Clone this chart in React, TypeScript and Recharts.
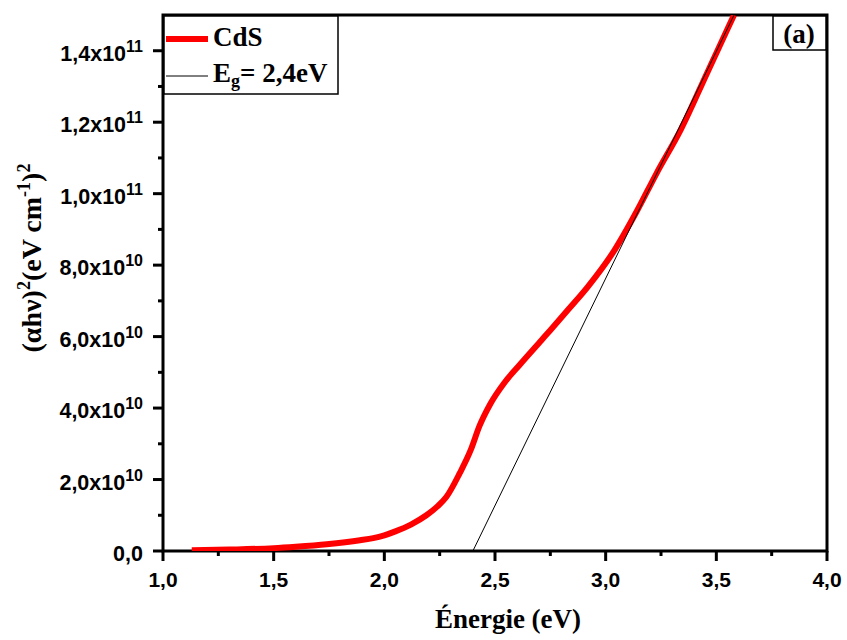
import React from 'react';
import { LineChart, Line, XAxis, YAxis, ReferenceArea } from 'recharts';

// photon energy (eV) and (alpha h nu)^2
const energy = [1.13, 1.3, 1.5, 1.6, 1.74, 1.89, 1.95, 2.0, 2.05, 2.12, 2.19, 2.24, 2.28, 2.34, 2.39, 2.43, 2.48, 2.54, 2.61, 2.71, 2.75, 2.83, 2.92, 3.04, 3.14, 3.23, 3.34, 3.46, 3.58];
const absorption = [0.02e10, 0.04e10, 0.08e10, 0.12e10, 0.19e10, 0.3e10, 0.36e10, 0.44e10, 0.55e10, 0.74e10, 1.0e10, 1.25e10, 1.51e10, 2.17e10, 2.82e10, 3.5e10, 4.13e10, 4.69e10, 5.2e10, 5.9e10, 6.18e10, 6.75e10, 7.4e10, 8.42e10, 9.5e10, 10.57e10, 11.8e10, 13.4e10, 15.0e10];

// Tauc fit line, Eg = 2,4 eV
const fitEnergy = [2.4, 3.58];
const fitValue = [0, 1.5e11];

const xTicks = [1, 1.25, 1.5, 1.75, 2, 2.25, 2.5, 2.75, 3, 3.25, 3.5, 3.75, 4];
const xLabels = ['1,0', '1,5', '2,0', '2,5', '3,0', '3,5', '4,0'];
const yTicks = [0, 1e10, 2e10, 3e10, 4e10, 5e10, 6e10, 7e10, 8e10, 9e10, 10e10, 11e10, 12e10, 13e10, 14e10];
const yLabelMain = ['0,0', '2,0x10', '4,0x10', '6,0x10', '8,0x10', '1,0x10', '1,2x10', '1,4x10'];
const yLabelExp = ['', '10', '10', '10', '10', '11', '11', '11'];

const curveData = energy.map((e, i) => ({ x: e, y: absorption[i] }));
const fitData = fitEnergy.map((e, i) => ({ x: e, y: fitValue[i] }));

const sans = '"Liberation Sans", Arial, sans-serif';
const serif = '"Liberation Serif", "Times New Roman", serif';

const XTick = (props: any) => {
  const { x, y, payload } = props;
  const v = payload.value;
  const major = Math.abs(v * 2 - Math.round(v * 2)) < 1e-6;
  const idx = Math.round((v - 1) * 2);
  return (
    <g>
      <line x1={x} y1={y} x2={x} y2={y + (major ? 10 : 5)} stroke="#000" strokeWidth={3} />
      {major && (
        <text x={x} y={y + 36} textAnchor="middle" fontFamily={sans} fontWeight="bold" fontSize={21} fill="#000">
          {xLabels[idx]}
        </text>
      )}
    </g>
  );
};

const YTick = (props: any) => {
  const { x, y, payload } = props;
  const v = payload.value;
  const k = Math.round(v / 1e10);
  const major = k % 2 === 0;
  const idx = k / 2;
  return (
    <g>
      <line x1={x} y1={y} x2={x - (major ? 10 : 5)} y2={y} stroke="#000" strokeWidth={3} />
      {major && (
        <text x={x - 20} y={y + 10} textAnchor="end" fontFamily={sans} fontWeight="bold" fontSize={21.5} fill="#000">
          {yLabelMain[idx]}
          {yLabelExp[idx] && (
            <tspan fontSize={16} dy={-9}>{yLabelExp[idx]}</tspan>
          )}
        </text>
      )}
    </g>
  );
};

export default function App() {
  return (
    <div style={{ position: 'relative', width: 847, height: 640, background: '#fff' }}>
      <style>{`body{margin:0;}`}</style>
      <LineChart width={847} height={640} margin={{ top: 15, right: 20, left: 0, bottom: 0 }}>
        <XAxis
          dataKey="x"
          type="number"
          domain={[1, 4]}
          ticks={xTicks}
          allowDecimals
          axisLine={false}
          tickLine={false}
          tickSize={0}
          tickMargin={0}
          height={89}
          tick={<XTick />}
          interval={0}
        />
        <YAxis
          type="number"
          domain={[0, 1.5e11]}
          ticks={yTicks}
          axisLine={false}
          tickLine={false}
          tickSize={0}
          tickMargin={0}
          width={163}
          tick={<YTick />}
          interval={0}
          allowDataOverflow
        />
        <Line data={curveData} dataKey="y" type="monotone" stroke="#ff0000" strokeWidth={6} dot={false} isAnimationActive={false} />
        <Line data={fitData} dataKey="y" type="linear" stroke="#000" strokeWidth={1} dot={false} isAnimationActive={false} />
        <ReferenceArea x1={1} x2={4} y1={0} y2={1.5e11} fill="none" stroke="#000" strokeWidth={3} ifOverflow="visible" />
      </LineChart>
      <svg width={847} height={640} style={{ position: 'absolute', left: 0, top: 0, pointerEvents: 'none' }}>
        {/* legend box */}
        <rect x={164} y={16} width={174} height={78} fill="#fff" stroke="#000" strokeWidth={1.5} />
        <line x1={166} y1={39} x2={208} y2={39} stroke="#ff0000" strokeWidth={6} />
        <text x={213} y={46} fontFamily={serif} fontWeight="bold" fontSize={27} fill="#000">CdS</text>
        <line x1={166} y1={76} x2={208} y2={76} stroke="#000" strokeWidth={1} />
        <text x={213} y={82} fontFamily={serif} fontWeight="bold" fontSize={27} fill="#000">
          E<tspan fontSize={18} dy={5}>g</tspan><tspan dy={-5}>= 2,4eV</tspan>
        </text>
        {/* panel label */}
        <rect x={773} y={16} width={53} height={34} fill="#fff" stroke="#000" strokeWidth={1.5} />
        <text x={799} y={43} textAnchor="middle" fontFamily={serif} fontWeight="bold" fontSize={27} fill="#000">(a)</text>
        {/* axis titles */}
        <text x={508} y={628} textAnchor="middle" fontFamily={serif} fontWeight="bold" fontSize={27} fill="#000">Énergie (eV)</text>
        <text transform="translate(41,258) rotate(-90)" textAnchor="middle" fontFamily={serif} fontWeight="bold" fontSize={28} fill="#000">
          (αhν)<tspan fontSize={18} dy={-11}>2</tspan><tspan dy={11}>(eV cm</tspan><tspan fontSize={18} dy={-11}>-1</tspan><tspan dy={11}>)</tspan><tspan fontSize={18} dy={-11}>2</tspan>
        </text>
      </svg>
    </div>
  );
}
